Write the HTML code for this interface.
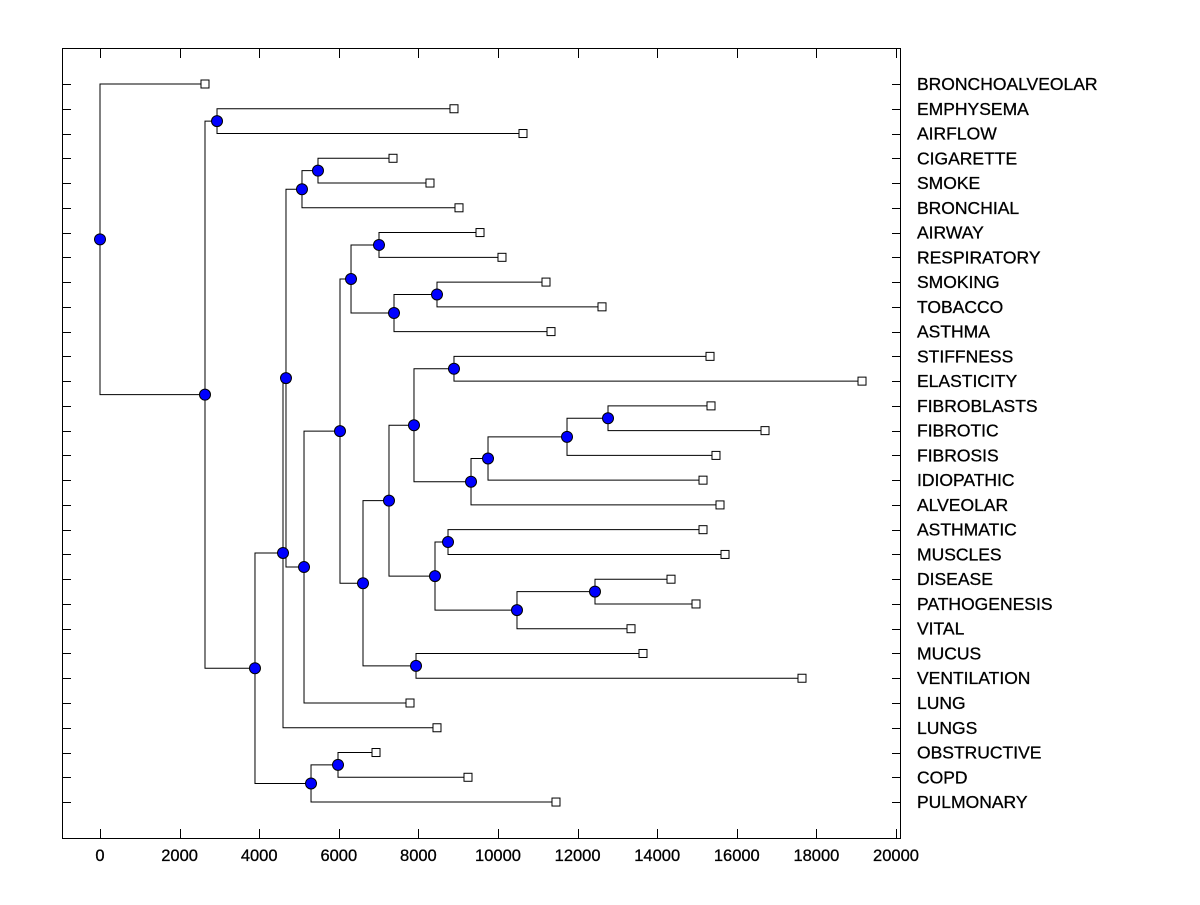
<!DOCTYPE html>
<html><head><meta charset="utf-8"><style>
body{margin:0;background:#fff;}
svg text{font-family:"Liberation Sans",Arial,sans-serif;fill:#000;}
</style></head><body>
<svg id="chart" width="1200" height="900" xmlns="http://www.w3.org/2000/svg">
<rect x="62.5" y="48.5" width="838" height="790" fill="none" stroke="#000" stroke-width="1"/>
<g id="axes"></g><g id="tree"></g><g id="marks"></g>
</svg>
<script>
const leafLabels=["BRONCHOALVEOLAR","EMPHYSEMA","AIRFLOW","CIGARETTE","SMOKE","BRONCHIAL","AIRWAY","RESPIRATORY","SMOKING","TOBACCO","ASTHMA","STIFFNESS","ELASTICITY","FIBROBLASTS","FIBROTIC","FIBROSIS","IDIOPATHIC","ALVEOLAR","ASTHMATIC","MUSCLES","DISEASE","PATHOGENESIS","VITAL","MUCUS","VENTILATION","LUNG","LUNGS","OBSTRUCTIVE","COPD","PULMONARY"];
const leafValues=[2638,8894,10628,7362,8291,9020,9548,10100,11206,12613,11332,15327,19146,15352,16709,15477,15151,15578,15151,15704,14347,14975,13342,13643,17638,7789,8467,6935,9246,11457];
// merges: children as "L<i>" (leaf) or "N<id>" (earlier merge); heights separate
const mergeLeft=["L1","L3","NJ","L6","L8","NP","NN","L11","L13","NY","NX","NW","NU","L18","L20","NBB","NZ","NS","L23","NQ","NL","NK","NH","NG","L27","NF","ND","NB","L0"];
const mergeRight=["L2","L4","L5","L7","L9","L10","NO","L12","L14","L15","L16","L17","NV","L19","L21","L22","NAA","NT","L24","NR","NM","L25","NI","L26","L28","L29","NE","NC","NA"];
const mergeIds=["B","J","H","N","P","O","L","U","Y","X","W","V","S","Z","BB","AA","T","Q","R","M","K","I","G","D","F","E","C","A","ROOT"];
const mergeHeights=[2940,5477,5075,7010,8467,7387,6307,8894,12764,11734,9749,9322,7889,8744,12437,10477,8417,7261,7940,6608,6030,5126,4673,4598,5980,5302,3894,2638,0];
const xTicks=[0,2000,4000,6000,8000,10000,12000,14000,16000,18000,20000];

const NS="http://www.w3.org/2000/svg";
const sx=v=>100+v*0.0398;
const sy=i=>84+i*24.76;
function mk(tag,attrs,parent){const e=document.createElementNS(NS,tag);for(const k in attrs)e.setAttribute(k,attrs[k]);parent.appendChild(e);return e;}
const axes=document.getElementById('axes'),tree=document.getElementById('tree'),marks=document.getElementById('marks');

xTicks.forEach(t=>{
  const x=Math.round(sx(t))+0.5;
  let l=mk('line',{x1:x,x2:x,y1:838,y2:829,stroke:'#000'},axes);
  
  
  l=mk('line',{x1:x,x2:x,y1:49,y2:58,stroke:'#000'},axes);
  
  
  const tx=mk('text',{x:sx(t),y:861,'font-size':16.5,'text-anchor':'middle','stroke':'#000','stroke-width':0.3},axes);
  tx.textContent=t;
  
  
});
leafLabels.forEach((lab,i)=>{
  const y=Math.round(sy(i))+0.5;
  let l=mk('line',{x1:62,x2:71,y1:y,y2:y,stroke:'#000'},axes);
  
  
  l=mk('line',{x1:892,x2:901,y1:y,y2:y,stroke:'#000'},axes);
  
  
  const tx=mk('text',{x:917,y:sy(i)+6,'font-size':17.5,'stroke':'#000','stroke-width':0.3},axes);
  tx.textContent=lab;
  
  
});

const pos={};
leafValues.forEach((v,i)=>{pos['L'+i]={x:sx(v),y:sy(i)};});
mergeIds.forEach((id,j)=>{
  const a=pos[mergeLeft[j]],b=pos[mergeRight[j]];
  if(!a||!b)return;
  const x=sx(mergeHeights[j]),y=(a.y+b.y)/2;
  pos['N'+id]={x,y};
  const p=mk('path',{d:`M${a.x},${a.y}H${x}V${b.y}H${b.x}`,fill:'none',stroke:'#000','stroke-width':1},tree);
  
  
});
mergeIds.forEach(id=>{
  const p=pos['N'+id];
  if(!p)return;
  const c=mk('circle',{cx:p.x,cy:p.y,r:5.5,fill:'#0000ff',stroke:'#000','stroke-width':1},marks);
  
  
});
leafValues.forEach((v,i)=>{
  const p=pos['L'+i];
  const r=mk('rect',{x:p.x-4,y:p.y-4,width:8,height:8,fill:'#fff',stroke:'#000','stroke-width':1},marks);
  
  
});
</script>
</body></html>
